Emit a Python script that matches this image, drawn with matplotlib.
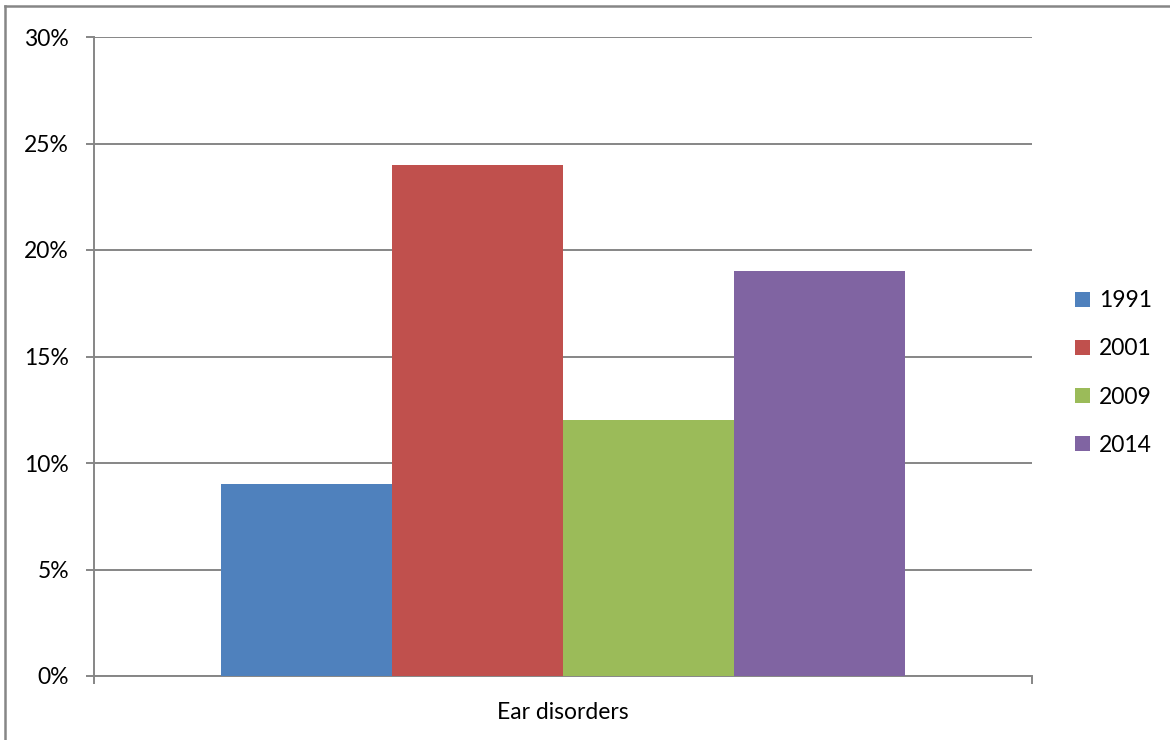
import matplotlib.pyplot as plt
from matplotlib.lines import Line2D
from matplotlib.ticker import FuncFormatter

# Share of cases by survey year
category = 'Ear disorders'
years = ['1991', '2001', '2009', '2014']
shares = [9, 24, 12, 19]
colors = ['#4F81BD', '#C0504D', '#9BBB59', '#8064A2']
y_ticks = [0, 5, 10, 15, 20, 25, 30]

plt.rcParams['font.family'] = ['Lato', 'DejaVu Sans']
grey = '#868686'
fsize = 16.5

fig = plt.figure(figsize=(11.7, 7.4), dpi=100)
ax = fig.add_axes([94 / 1170, 1 - 676 / 740, 938 / 1170, 639 / 740])

# Clustered bars for the single category
width = 171 / 938
for i, (year, value, color) in enumerate(zip(years, shares, colors)):
    offset = (i - 1.5) * width
    ax.bar(offset, value, width=width, color=color, label=year, zorder=3)

ax.set_xlim(-0.5, 0.5)
ax.set_ylim(0, 30)
ax.set_yticks(y_ticks)
ax.yaxis.set_major_formatter(FuncFormatter(lambda v, pos: f'{v:.0f}%'))
ax.yaxis.grid(True, color=grey, linewidth=1.4, zorder=0)

# x axis: edge tick marks only, category name centred
ax.set_xticks([-0.5, 0.5])
ax.set_xticklabels(['', ''])
ax.set_xticks([0], minor=True)
ax.set_xticklabels([category], minor=True)
ax.tick_params(axis='x', which='minor', length=0, pad=19, labelsize=fsize)
ax.tick_params(axis='x', which='major', length=6, width=1.4, color=grey, direction='out')
ax.tick_params(axis='y', length=6, width=1.4, color=grey, labelsize=fsize, pad=12)

for side in ['top', 'right']:
    ax.spines[side].set_visible(False)
for side in ['left', 'bottom']:
    ax.spines[side].set_color(grey)
    ax.spines[side].set_linewidth(1.4)

ax.legend(loc='center left', bbox_to_anchor=(1066 / 1170, 1 - 373 / 740),
          bbox_transform=fig.transFigure, frameon=False, fontsize=fsize,
          handlelength=0.65, handleheight=0.65, handletextpad=0.4,
          labelspacing=1.18, borderaxespad=0)

# chart border along the top and left edges
fig.add_artist(Line2D([5 / 1170, 5 / 1170], [0, 1 - 6 / 740], transform=fig.transFigure,
                      color=grey, linewidth=1.8))
fig.add_artist(Line2D([5 / 1170, 1], [1 - 6 / 740, 1 - 6 / 740], transform=fig.transFigure,
                      color=grey, linewidth=1.8))

fig.savefig('out.png', dpi=100)
